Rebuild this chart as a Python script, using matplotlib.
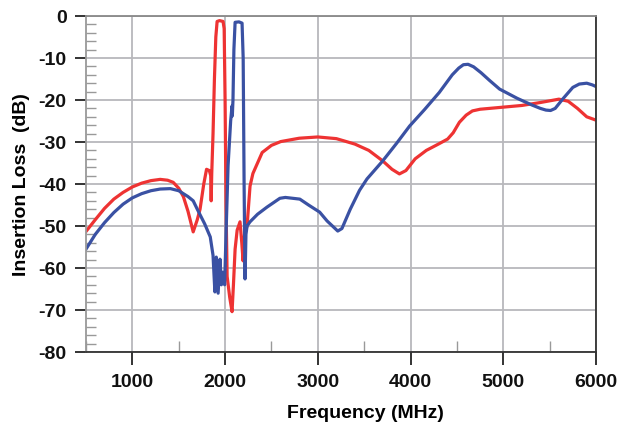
import matplotlib
matplotlib.use("Agg")
import matplotlib.pyplot as plt
from matplotlib import font_manager
from matplotlib.ticker import MultipleLocator

# red trace (MHz, dB)
red_freq = [500, 600, 700, 800, 900, 1000, 1100, 1200, 1300, 1380, 1440, 1500,
            1550, 1600, 1656, 1700, 1730, 1770, 1800, 1830, 1845, 1850, 1856,
            1870, 1885, 1900, 1914, 1940, 1978, 1990, 2000, 2010, 2022, 2050,
            2075, 2090, 2108, 2130, 2161, 2180, 2194, 2210, 2237, 2269, 2300,
            2400, 2500, 2600, 2800, 3000, 3200, 3400, 3550, 3700, 3800, 3880,
            3950, 4050, 4170, 4300, 4400, 4460, 4527, 4600, 4667, 4750, 4850,
            5000, 5200, 5400, 5600, 5700, 5800, 5900, 6000]
red_db = [-51.3, -48.5, -45.8, -43.6, -42.0, -40.7, -39.8, -39.2, -38.9, -39.1,
          -39.6, -41.0, -43.0, -46.5, -51.4, -48.5, -46.0, -40.0, -36.5, -36.8,
          -38.0, -44.0, -37.5, -28.0, -15.0, -5.0, -1.3, -1.1, -1.3, -3.0,
          -20.0, -45.0, -62.0, -67.0, -70.4, -64.0, -55.5, -51.0, -49.0, -54.0,
          -58.3, -52.0, -50.0, -40.5, -37.5, -32.5, -30.8, -29.9, -29.1, -28.8,
          -29.2, -30.5, -32.0, -34.5, -36.5, -37.6, -36.8, -34.0, -32.0, -30.5,
          -29.3, -27.8, -25.3, -23.6, -22.6, -22.2, -22.0, -21.7, -21.3, -20.6,
          -19.8, -20.3, -22.0, -24.0, -24.8]

# blue trace (MHz, dB)
blue_freq = [500, 600, 700, 800, 900, 1000, 1100, 1200, 1300, 1410, 1500, 1600,
             1656, 1700, 1780, 1840, 1870, 1890, 1905, 1925, 1945, 1960, 1975,
             1995, 2010, 2032, 2060, 2075, 2078, 2085, 2095, 2108, 2150, 2183,
             2195, 2205, 2215, 2225, 2237, 2269, 2350, 2452, 2591, 2650, 2806,
             2900, 3020, 3100, 3215, 3260, 3350, 3450, 3530, 3700, 3850, 3990,
             4150, 4310, 4450, 4520, 4570, 4620, 4680, 4760, 4850, 4960, 5150,
             5310, 5400, 5460, 5510, 5560, 5640, 5750, 5820, 5900, 5960, 6000]
blue_db = [-55.5, -52.0, -49.2, -46.8, -44.8, -43.3, -42.3, -41.6, -41.2, -41.1,
           -41.6, -43.0, -44.0, -46.0, -49.5, -52.6, -57.0, -65.7, -57.4, -66.0,
           -57.9, -64.0, -61.0, -64.0, -52.0, -35.7, -25.0, -21.4, -23.8, -20.0,
           -8.0, -1.5, -1.4, -1.7, -10.0, -40.0, -62.6, -52.0, -50.0, -49.0,
           -47.2, -45.5, -43.4, -43.2, -43.6, -45.0, -46.7, -48.8, -51.2, -50.6,
           -46.0, -41.5, -38.8, -34.5, -30.3, -26.2, -22.3, -18.2, -14.0, -12.4,
           -11.6, -11.5, -12.1, -13.5, -15.3, -17.4, -19.6, -21.2, -22.0, -22.4,
           -22.5, -22.0, -19.8, -17.0, -16.2, -16.0, -16.4, -16.8]

x_ticks = [1000, 2000, 3000, 4000, 5000, 6000]
y_ticks = [0, -10, -20, -30, -40, -50, -60, -70, -80]

# a narrow font if there is one, else Liberation Sans
names = {f.name for f in font_manager.fontManager.ttflist}
font = [n for n in ["Liberation Sans Narrow", "Liberation Sans"] if n in names]
plt.rcParams["font.family"] = font + ["DejaVu Sans"]
plt.rcParams["font.weight"] = "bold"
plt.rcParams["axes.unicode_minus"] = False

fig = plt.figure(figsize=(6.21, 4.27), dpi=100)
ax = fig.add_axes([86 / 621, 1 - 353 / 427, 510 / 621, 336 / 427])

ax.plot(red_freq, red_db, color="#ee3333", lw=2.3, solid_joinstyle="round")
ax.plot(blue_freq, blue_db, color="#3a51a3", lw=2.3, solid_joinstyle="round")

ax.set_xlim(500, 6000)
ax.set_ylim(-80, 0)
ax.set_xticks(x_ticks)
ax.set_yticks(y_ticks)
ax.xaxis.set_minor_locator(MultipleLocator(500))
ax.yaxis.set_minor_locator(MultipleLocator(2))

ax.grid(True, which="major", color="#b8b8bc", lw=1.3)
ax.set_axisbelow(True)

ax.tick_params(axis="both", which="major", labelsize=14, colors="#111111",
               width=1.2)
ax.tick_params(axis="y", which="major", direction="out", length=8, pad=6)
ax.tick_params(axis="x", which="major", direction="out", length=9, pad=6)
ax.tick_params(axis="both", which="minor", direction="in", length=7,
               color="#999999", width=1.0)
ax.tick_params(axis="x", which="minor", length=8)

for lbl in ax.get_xticklabels() + ax.get_yticklabels():
    lbl.set_fontweight("bold")

ax.spines["left"].set_color("#999999")
ax.spines["top"].set_color("#888888")
ax.spines["right"].set_color("#333333")
ax.spines["bottom"].set_color("#333333")
for s in ax.spines.values():
    s.set_linewidth(1.3)

ax.set_xlabel("Frequency (MHz)", fontsize=14, fontweight="bold")
ax.xaxis.set_label_coords(0.547, -0.155)
ax.set_ylabel("Insertion Loss  (dB)", fontsize=14, fontweight="bold", labelpad=6)

plt.savefig("out.png", dpi=100)
